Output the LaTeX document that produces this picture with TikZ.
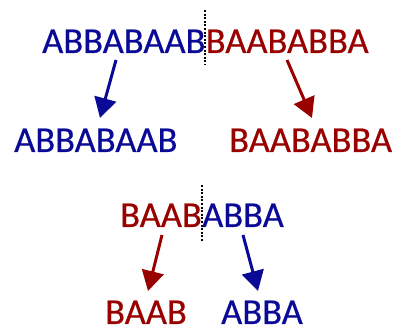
\documentclass[tikz,border=0pt]{standalone}
\usepackage{fontspec}
\setmainfont{Carlito}[FakeBold=0.5]
\usetikzlibrary{arrows.meta}
\definecolor{myblue}{RGB}{10,10,150}
\definecolor{myred}{RGB}{153,0,0}
\begin{document}
\begin{tikzpicture}[x=1pt,y=-1pt,
  word/.style={inner sep=0pt,anchor=base west,font=\fontsize{36.5}{40}\selectfont},
  bw/.style={word,text=myblue},
  rw/.style={word,text=myred},
  arr/.style={line width=3pt,-{Triangle[length=20pt,width=22pt]}},
  split/.style={black,line width=1.3pt,dash pattern=on 2pt off 1.6pt}]
\useasboundingbox (0,0) rectangle (407,328);
% top section
\node[bw] (t1) at (42,53) {ABBABAAB};
\node[rw] (t2) at (t1.base east) {BAABABBA};
\coordinate (d1a) at (205,10);
\coordinate (d1b) at (205,65);
\draw[split] (d1a) -- (d1b);
\node[bw] (b1) at (14,152) {ABBABAAB};
\node[rw] (b2) at (229,152) {BAABABBA};
\coordinate (s1) at (116,60);
\coordinate (e1) at (100,118);
\coordinate (s2) at (287,60);
\coordinate (e2) at (312,118);
\draw[arr,myblue] (s1) -- (e1);
\draw[arr,myred] (s2) -- (e2);
% bottom section
\node[rw] (t3) at (120,227) {BAAB};
\node[bw] (t4) at (t3.base east) {ABBA};
\coordinate (d2a) at (202,185);
\coordinate (d2b) at (202,242);
\draw[split] (d2a) -- (d2b);
\node[rw] (b3) at (105,324) {BAAB};
\node[bw] (b4) at (221,324) {ABBA};
\coordinate (s3) at (162,235);
\coordinate (e3) at (148,291);
\coordinate (s4) at (243,235);
\coordinate (e4) at (258,291);
\draw[arr,myred] (s3) -- (e3);
\draw[arr,myblue] (s4) -- (e4);
\end{tikzpicture}
\end{document}
